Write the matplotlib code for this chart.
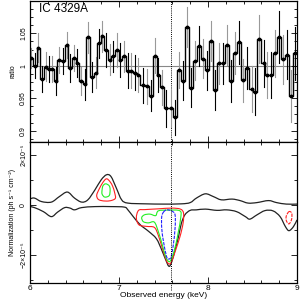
import numpy as np
import matplotlib
matplotlib.use("Agg")
import matplotlib.pyplot as plt
from matplotlib.ticker import MultipleLocator, FixedLocator, FixedFormatter
from matplotlib.path import Path
from matplotlib.patches import PathPatch

plt.rcParams['font.family'] = ['Liberation Sans', 'DejaVu Sans']

# ---------------- top panel: data/model ratio ----------------
energy = [6.011, 6.056, 6.094, 6.131, 6.176, 6.213, 6.251, 6.288, 6.326, 6.371,
          6.412, 6.453, 6.491, 6.532, 6.569, 6.614, 6.652, 6.693, 6.738, 6.775,
          6.813, 6.854, 6.895, 6.936, 6.974, 7.015, 7.056, 7.097, 7.139, 7.180,
          7.217, 7.266, 7.311, 7.360, 7.401, 7.442, 7.487, 7.532, 7.581, 7.625,
          7.670, 7.719, 7.764, 7.809, 7.850, 7.895, 7.940, 7.985, 8.034, 8.082,
          8.124, 8.169, 8.213, 8.258, 8.303, 8.348, 8.393, 8.442, 8.490, 8.532,
          8.577, 8.625, 8.667, 8.711, 8.756, 8.801, 8.846, 8.888, 8.933, 8.981]
ratio = [1.0123, 1.0000, 1.0278, 0.9789, 0.9985, 0.9954, 0.9954, 0.9764, 1.0087, 1.0072,
         1.0319, 0.9969, 1.0113, 1.0046, 0.9764, 0.9712, 1.0437, 0.9830, 0.9892, 1.0344,
         1.0457, 1.0242, 1.0093, 1.0149, 1.0242, 1.0087, 1.0149, 0.9923, 0.9923, 0.9892,
         0.9856, 0.9702, 0.9681, 0.9537, 1.0154, 0.9856, 0.9666, 0.9342, 0.9342, 0.9203,
         0.9933, 0.9769, 1.0601, 0.9661, 1.0077, 1.0308, 1.0108, 0.9933, 1.0386, 0.9625,
         1.0036, 1.0036, 1.0319, 0.9769, 1.0200, 1.0365, 0.9779, 0.9969, 0.9645, 0.9599,
         1.0406, 1.0036, 0.9856, 0.9856, 1.0190, 1.0437, 1.0098, 1.0170, 0.9532, 1.0190]
ratio_err = [0.015, 0.019, 0.022, 0.020, 0.022, 0.020, 0.020, 0.022, 0.020, 0.020,
             0.020, 0.022, 0.020, 0.022, 0.022, 0.024, 0.024, 0.023, 0.024, 0.023,
             0.024, 0.026, 0.024, 0.024, 0.026, 0.026, 0.024, 0.027, 0.027, 0.027,
             0.026, 0.027, 0.027, 0.024, 0.027, 0.026, 0.027, 0.028, 0.028, 0.027,
             0.028, 0.030, 0.031, 0.030, 0.030, 0.031, 0.030, 0.030, 0.031, 0.031,
             0.031, 0.031, 0.031, 0.032, 0.032, 0.033, 0.033, 0.032, 0.035, 0.036,
             0.037, 0.036, 0.036, 0.036, 0.036, 0.040, 0.038, 0.038, 0.040, 0.041]

line_energy = 7.58
title = "IC 4329A"

# ---------------- bottom panel: confidence contours (units 1e-5) ----------------
black_upper_e = [6.00, 6.05, 6.13, 6.24, 6.33, 6.42, 6.50, 6.58, 6.65, 6.73, 6.80, 6.86,
                 6.91, 6.97, 7.03, 7.10, 7.30, 7.50, 7.70, 7.80, 7.87, 7.97, 8.06, 8.15,
                 8.27, 8.36, 8.45, 8.55, 8.68, 8.77, 8.88, 9.00]
black_upper_n = [0.24, 0.27, 0.13, 0.11, 0.33, 0.51, 0.27, 0.11, 0.20, 0.60, 1.00, 1.20,
                 1.13, 0.67, 0.20, 0.07, 0.04, 0.03, 0.04, 0.09, 0.27, 0.44, 0.33, 0.20,
                 0.23, 0.17, 0.07, 0.09, 0.17, 0.09, 0.03, 0.03]
black_lower_e = [6.00, 6.05, 6.15, 6.24, 6.31, 6.39, 6.45, 6.50, 6.58, 6.73, 6.91, 7.06,
                 7.10, 7.16, 7.24, 7.33, 7.42, 7.48, 7.52, 7.56, 7.59, 7.63, 7.67, 7.70,
                 7.74, 7.80, 7.87, 7.97, 8.10, 8.21, 8.32, 8.42, 8.47, 8.55, 8.64, 8.73,
                 8.81, 8.87, 8.91, 8.96, 9.00]
black_lower_n = [-0.07, -0.11, -0.27, -0.47, -0.29, -0.11, -0.13, -0.20, -0.11, -0.07, -0.07, -0.09,
                 -0.20, -0.47, -0.80, -1.05, -1.35, -1.80, -2.15, -2.45, -2.30, -1.80, -1.25, -0.75,
                 -0.40, -0.22, -0.20, -0.17, -0.22, -0.20, -0.27, -0.47, -0.57, -0.40, -0.23, -0.24,
                 -0.47, -0.87, -1.03, -0.87, -0.60]

red_peak_e = [6.86, 6.82, 6.78, 6.75, 6.76, 6.79, 6.86, 6.92, 6.96, 6.95, 6.93, 6.90]
red_peak_n = [1.04, 0.90, 0.65, 0.40, 0.25, 0.18, 0.15, 0.18, 0.27, 0.50, 0.73, 0.92]
green_peak_e = [6.85, 6.82, 6.81, 6.81, 6.84, 6.89, 6.90, 6.89]
green_peak_n = [0.84, 0.76, 0.60, 0.43, 0.31, 0.37, 0.60, 0.76]

red_dip_e = [7.22, 7.29, 7.44, 7.59, 7.69, 7.725, 7.72, 7.685, 7.63, 7.59, 7.565, 7.535,
             7.487, 7.44, 7.397, 7.31, 7.225, 7.195]
red_dip_n = [-0.22, -0.19, -0.16, -0.13, -0.17, -0.33, -0.73, -1.27, -1.87, -2.27, -2.36, -2.24,
             -1.73, -1.20, -0.90, -0.86, -0.80, -0.52]
green_dip_e = [7.685, 7.554, 7.442, 7.412, 7.348, 7.285, 7.255, 7.273, 7.329, 7.397, 7.442,
               7.487, 7.524, 7.565, 7.599, 7.637, 7.667, 7.693]
green_dip_n = [-0.24, -0.21, -0.24, -0.43, -0.37, -0.40, -0.51, -0.67, -0.72, -0.69, -1.07,
               -1.60, -2.07, -2.27, -2.07, -1.60, -1.07, -0.53]
blue_dip_e = [7.50, 7.535, 7.59, 7.63, 7.63, 7.61, 7.585, 7.56, 7.535, 7.50, 7.48, 7.48]
blue_dip_n = [-0.29, -0.20, -0.24, -0.40, -0.93, -1.60, -2.07, -2.16, -2.07, -1.47, -0.93, -0.47]
red_hi_e = [8.91, 8.88, 8.88, 8.91, 8.94, 8.94]
red_hi_n = [-0.27, -0.44, -0.63, -0.76, -0.57, -0.33]

norm_unit = 1e-5

fig = plt.figure(figsize=(3, 3), dpi=100)
ax1 = fig.add_axes([0.1, 0.5277, 0.89, 0.4693])
ax2 = fig.add_axes([0.1, 0.0557, 0.89, 0.472])

# top panel
ax1.axhline(1.0, color='#888888', lw=0.8, zorder=1)
for i, (e, r, s) in enumerate(zip(energy, ratio, ratio_err)):
    col = '#000000' if i % 2 else '#999999'
    ax1.plot([e, e], [r - s, r + s], color=col, lw=0.8, zorder=2)
ax1.plot(energy, ratio, drawstyle='steps-mid', color='black', lw=1.0, zorder=3)
ax1.plot(energy, ratio, 'o', color='black', ms=1.8, zorder=4)
ax1.axvline(line_energy, color='black', lw=0.7, ls=(0, (1, 1.2)), zorder=1,
            ymin=-0.06, clip_on=False)
ax1.text(6.1, 1.097, title, fontsize=8.5, va='top', ha='left')
ax1.set_xlim(6, 9)
ax1.set_ylim(0.883, 1.1)
ax1.yaxis.set_major_locator(FixedLocator([0.9, 0.95, 1.0, 1.05]))
ax1.yaxis.set_major_formatter(FixedFormatter(['0.9', '0.95', '1', '1.05']))
ax1.yaxis.set_minor_locator(MultipleLocator(0.0125))
ax1.xaxis.set_major_locator(MultipleLocator(1))
ax1.xaxis.set_minor_locator(MultipleLocator(0.2))
ax1.tick_params(axis='x', labelbottom=False)
ax1.set_ylabel('ratio', fontsize=5, labelpad=3)


# bottom panel: smooth curves through the read-off points (Catmull-Rom -> cubic Bezier)
def smooth_curve(e, n, closed=False, **kw):
    pts = np.column_stack([np.asarray(e, float), np.asarray(n, float) * norm_unit])
    m = len(pts)
    if closed:
        ext = np.vstack([pts[-1:], pts, pts[:2]])
        nseg = m
    else:
        ext = np.vstack([pts[:1], pts, pts[-1:]])
        nseg = m - 1
    verts = [ext[1]]
    codes = [Path.MOVETO]
    for i in range(nseg):
        p0, p1, p2, p3 = ext[i], ext[i + 1], ext[i + 2], ext[i + 3]
        c1 = p1 + (p2 - p0) / 6.0
        c2 = p2 - (p3 - p1) / 6.0
        verts += [c1, c2, p2]
        codes += [Path.CURVE4] * 3
    patch = PathPatch(Path(verts, codes), fill=False, transform=ax2.transData, **kw)
    ax2.add_patch(patch)


smooth_curve(black_upper_e, black_upper_n, color='#222222', lw=0.9)
smooth_curve(black_lower_e, black_lower_n, color='#222222', lw=0.9)
smooth_curve(red_peak_e, red_peak_n, closed=True, color='#ff2020', lw=0.8)
smooth_curve(green_peak_e, green_peak_n, closed=True, color='#22ee22', lw=0.8)
smooth_curve(red_dip_e, red_dip_n, closed=True, color='#ff2020', lw=0.8)
smooth_curve(green_dip_e, green_dip_n, closed=True, color='#22ee22', lw=0.8)
smooth_curve(blue_dip_e, blue_dip_n, closed=True, color='#2020ff', lw=0.8, ls=(0, (3, 1)))
smooth_curve(red_hi_e, red_hi_n, closed=True, color='#ff2020', lw=0.8, ls=(0, (3, 1)))
ax2.axvline(line_energy, color='black', lw=0.7, ls=(0, (1, 1.2)), zorder=1,
            ymax=1.0, ymin=-0.05, clip_on=False)
ax2.set_xlim(6, 9)
ax2.set_ylim(-3.13e-5, 2.52e-5)
ax2.yaxis.set_major_locator(FixedLocator([-2e-5, 0, 2e-5]))
ax2.yaxis.set_major_formatter(FixedFormatter(['\u22122\u00d710\u207b\u2075', '0', '2\u00d710\u207b\u2075']))
ax2.yaxis.set_minor_locator(MultipleLocator(1e-5))
ax2.xaxis.set_major_locator(FixedLocator([6, 7, 8, 9]))
ax2.xaxis.set_major_formatter(FixedFormatter(['6', '7', '8', '9']))
ax2.xaxis.set_minor_locator(MultipleLocator(0.2))
ax2.set_xlabel('Observed energy (keV)', fontsize=6, labelpad=-0.5)
ax2.set_ylabel('Normalization (ph s\u207b\u00b9 cm\u207b\u00b2)', fontsize=5, labelpad=3)

for ax in (ax1, ax2):
    ax.tick_params(which='both', direction='in', top=True, right=True, width=0.6)
    ax.tick_params(which='major', length=4)
    ax.tick_params(which='minor', length=2)
    ax.tick_params(axis='y', labelsize=5, labelrotation=90, pad=2)
    ax.tick_params(axis='x', labelsize=6, pad=1.5)
    for lab in ax.get_yticklabels():
        lab.set_va('center')
    for sp in ax.spines.values():
        sp.set_linewidth(0.9)

fig.savefig('out.png', dpi=100)
